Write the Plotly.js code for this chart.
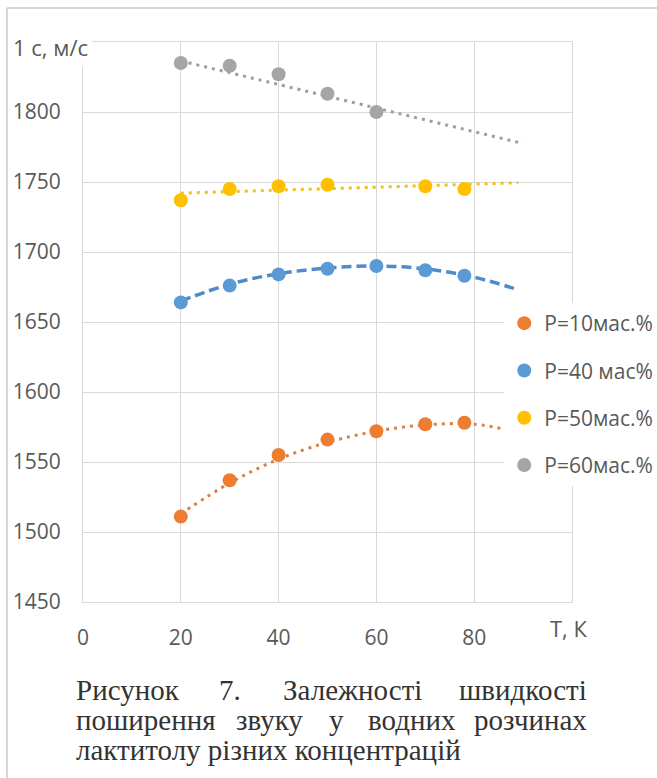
<!DOCTYPE html>
<html>
<head>
<meta charset="utf-8">
<script src="https://cdn.plot.ly/plotly-3.0.1.min.js"></script>
<style>
html,body{margin:0;padding:0;background:#fff;}
#chart{width:657px;height:778px;}
</style>
</head>
<body>
<div id="chart"></div>
<script>
// ---- data ----
const seriesNames = ["P=10мас.%", "P=40 мас%", "P=50мас.%", "P=60мас.%"];
const seriesColors = ["#ED7D31", "#5B9BD5", "#FFC000", "#A5A5A5"];

const xP10 = [20, 30, 40, 50, 60, 70, 78];
const yP10 = [1511, 1537, 1555, 1566, 1572, 1577, 1578];
const xP40 = [20, 30, 40, 50, 60, 70, 78];
const yP40 = [1664, 1676, 1684, 1688, 1690, 1687, 1683];
const xP50 = [20, 30, 40, 50, 70, 78];
const yP50 = [1737, 1745, 1747, 1748, 1747, 1745];
const xP60 = [20, 30, 40, 50, 60];
const yP60 = [1835, 1833, 1827, 1813, 1800];

// trend lines
const xT10 = [20, 30, 40, 50, 60, 70, 80, 88];
const yT10 = [1513, 1535, 1552, 1564, 1572, 1576.5, 1577, 1572];
const xT40 = [20, 30, 40, 50, 60, 70, 80, 89];
const yT40 = [1665, 1677, 1684.5, 1688.5, 1690, 1688, 1682, 1673];
const xT50 = [20, 89];
const yT50 = [1742, 1749.5];
const xT60 = [20, 90];
const yT60 = [1836.5, 1777.5];

const xTickVals = [0, 20, 40, 60, 80, 100];
const xTickText = ["0", "20", "40", "60", "80", ""];
const yTickVals = [1450, 1500, 1550, 1600, 1650, 1700, 1750, 1800, 1850];
const yTickText = ["1450", "1500", "1550", "1600", "1650", "1700", "1750", "1800", ""];

const yAxisTitle = "1 с, м/с";
const xAxisTitle = "Т, К";
const captionLine1 = ["Рисунок", "7.", "Залежності", "швидкості"];
const captionLine2 = ["поширення", "звуку", "у", "водних", "розчинах"];
const captionLine3 = "лактитолу різних концентрацій";

// ---- layout helpers (pixel -> paper) ----
const W = 657, H = 778;
const L = 83, R = 571.7, T = 42, B = 602;
const px = x => (x - L) / (R - L);
const py = y => (B - y) / (B - T);

const tickColor = "#595959";
const gridColor = "#d9d9d9";
const fontUI = "'Open Sans', 'Noto Sans', sans-serif";
const fontSerif = "'Liberation Serif', 'DejaVu Serif', serif";

const xs = [xP10, xP40, xP50, xP60];
const ys = [yP10, yP40, yP50, yP60];
const txs = [xT10, xT40, xT50, xT60];
const tys = [yT10, yT40, yT50, yT60];
const trendColors = ["#D9804A", "#4F8BC9", "#F5C400", "#9E9E9E"];
const trendDash = ["3px,5px", "10px,5px", "3px,5px", "3px,5px"];
const trendWidth = [3, 3.5, 3, 3];

const traces = [];
for (let i = 0; i < 4; i++) {
  traces.push({
    x: txs[i], y: tys[i], type: "scatter", mode: "lines",
    line: {color: trendColors[i], width: trendWidth[i], dash: trendDash[i], shape: "spline", smoothing: 1},
    showlegend: false, hoverinfo: "skip", legendgroup: "g" + i
  });
}
for (let i = 0; i < 4; i++) {
  traces.push({
    x: xs[i], y: ys[i], type: "scatter", mode: "markers", name: seriesNames[i],
    marker: {color: seriesColors[i], size: 14, symbol: "circle"},
    legendgroup: "g" + i
  });
}

const annotations = [
  {text: yAxisTitle, xref: "paper", yref: "paper", x: px(8), y: py(47), xanchor: "left", yanchor: "middle",
   showarrow: false, font: {family: fontUI, size: 22, color: tickColor}, bgcolor: "#ffffff", borderpad: 4},
  {text: xAxisTitle, xref: "paper", yref: "paper", x: px(569), y: py(628), xanchor: "center", yanchor: "middle",
   showarrow: false, font: {family: fontUI, size: 22, color: tickColor}}
];
const capFont = {family: fontSerif, size: 29, color: "#333333"};
const line1X = [75, 218, 282, 588];
const line2X = [75, 235, 328, 367, 588];
captionLine1.forEach((w, i) => annotations.push({
  text: w, xref: "paper", yref: "paper", x: px(line1X[i]), y: py(690),
  xanchor: i === captionLine1.length - 1 ? "right" : "left", yanchor: "middle", showarrow: false,
  font: capFont, borderpad: 0
}));
captionLine2.forEach((w, i) => annotations.push({
  text: w, xref: "paper", yref: "paper", x: px(line2X[i]), y: py(720),
  xanchor: i === captionLine2.length - 1 ? "right" : "left", yanchor: "middle", showarrow: false,
  font: capFont, borderpad: 0
}));
annotations.push({
  text: captionLine3, xref: "paper", yref: "paper", x: px(75), y: py(750),
  xanchor: "left", yanchor: "middle", showarrow: false,
  font: capFont, borderpad: 0
});

const layout = {
  width: W, height: H,
  margin: {l: L, r: W - R, t: T, b: H - B, pad: 0, autoexpand: false},
  paper_bgcolor: "#ffffff", plot_bgcolor: "#ffffff",
  showlegend: true,
  xaxis: {
    range: [0, 100], tickvals: xTickVals, ticktext: xTickText,
    showgrid: true, gridcolor: gridColor, gridwidth: 1, zeroline: false,
    showline: true, linecolor: gridColor, linewidth: 1, mirror: true,
    ticks: "outside", ticklen: 17, tickcolor: "rgba(0,0,0,0)",
    tickfont: {family: fontUI, size: 21, color: tickColor}, fixedrange: true, automargin: false
  },
  yaxis: {
    range: [1450, 1850], tickvals: yTickVals, ticktext: yTickText,
    showgrid: true, gridcolor: gridColor, gridwidth: 1, zeroline: false,
    showline: true, linecolor: gridColor, linewidth: 1, mirror: true,
    ticks: "outside", ticklen: 17, tickcolor: "rgba(0,0,0,0)",
    tickfont: {family: fontUI, size: 21, color: tickColor}, fixedrange: true, automargin: false
  },
  legend: {
    x: px(504), y: py(303), xanchor: "left", yanchor: "top",
    bgcolor: "#ffffff", borderwidth: 0,
    font: {family: fontUI, size: 21, color: tickColor},
    traceorder: "grouped", tracegroupgap: 17, itemsizing: "trace"
  },
  annotations: annotations,
  shapes: [
    {type: "line", xref: "paper", yref: "paper", x0: px(7), x1: px(657), y0: py(8), y1: py(8),
     line: {color: "#d6d6d6", width: 2}},
    {type: "line", xref: "paper", yref: "paper", x0: px(7), x1: px(7), y0: py(8), y1: py(778),
     line: {color: "#d6d6d6", width: 2}}
  ]
};

Plotly.newPlot("chart", traces, layout, {displayModeBar: false, staticPlot: true});
</script>
</body>
</html>
